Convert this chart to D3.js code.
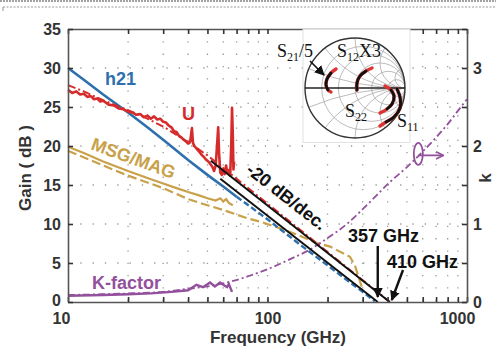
<!DOCTYPE html>
<html>
<head>
<meta charset="utf-8">
<script src="https://cdn.jsdelivr.net/npm/d3@7"></script>
<style>
body { margin: 0; background: #fff; }
svg text { font-family: "Liberation Sans", Arial, sans-serif; }
</style>
</head>
<body>
<div id="chart"></div>
<script>
// values: [frequency GHz, gain dB] or [frequency GHz, k]
const h21Meas = [[10,30.0],[12,28.5],[15,26.6],[20,24.3],[25,22.4],[30,20.8],[40,18.2],[50,16.3],[60,14.8],[70,13.5]];
const h21Model = [[70,13.5],[100,10.6],[150,7.1],[200,4.7],[250,2.8],[300,1.3],[345,0.1]];
const uMeas = [[10,27.2],[10.5,26.8],[11,27.0],[11.5,26.6],[12,26.7],[12.5,26.3],[13,26.4],[13.5,26.0],[14,26.1],[14.5,25.7],
  [15,25.8],[16,25.3],[17,25.2],[18,24.8],[19,24.7],[20,24.4],[21,24.3],[22,24.0],[23,24.1],[24,23.7],[25,23.9],[26,23.5],
  [27,23.8],[28,23.4],[29,23.5],[30,23.1],[31,23.0],[32,22.6],[33,22.4],[34,21.9],[35,21.8],[36,21.3],[37,21.1],[38,20.8],
  [39,20.6],[40,20.3],[41,20.6],[41.8,22.3],[42.3,20.4],[43,20.0],[44,19.7],[45,19.4],[46,19.1],[47,18.8],[48,18.6],[49,18.3],
  [50,18.1],[51,17.9],[52,17.6],[53,17.3],[54,16.8],[55,17.5],[56,20.5],[56.6,22.4],[57.2,19.0],[58,16.6],[59,16.3],[60,17.0],
  [61,16.4],[62,17.5],[63,16.5],[64,16.9],[65,16.2],[65.8,20.0],[66.4,24.9],[67,21.5],[67.5,17.0],[68,18.0]];
const uModel = [[10,27.8],[12,27.0],[14,26.2],[17,25.3],[20,24.6],[25,23.5],[30,22.5],[40,20.5],[50,18.8],[70,15.8],
  [100,12.6],[150,9.0],[200,6.4],[300,2.8],[380,0.7],[410,0]];
const msgMeas = [[10,19.9],[12,19.1],[15,18.0],[20,16.8],[25,15.9],[30,15.2],[35,14.6],[40,14.1],[45,13.7],[50,13.3],
  [55,13.0],[58,13.3],[60,12.9],[62,13.2],[64,12.7],[67,12.4]];
const msgModel = [[10,19.4],[15,17.5],[20,16.2],[30,14.6],[40,13.2],[50,12.4],[60,11.8],[70,11.2],[80,10.7],[92,10.3],
  [120,9.3],[145,8.5],[175,7.6],[206,7.1],[259,5.8],[275,4.6],[297,1.9]];
const kMeas = [[10,0.08],[15,0.09],[20,0.10],[26,0.11],[33,0.13],[40,0.15],[44,0.22],[47.5,0.19],[51.5,0.25],[54.5,0.20],
  [57.8,0.25],[60,0.22],[62.7,0.19],[64,0.23],[66.4,0.13]];
const kModel = [[10,0.09],[15,0.10],[20,0.11],[30,0.13],[40,0.17],[50,0.20],[65,0.26],[80,0.33],[100,0.42],[130,0.55],
  [160,0.66],[200,0.82],[250,1.00],[300,1.19],[350,1.36],[400,1.51],[500,1.73],[600,1.93],[700,2.11],[800,2.28],[900,2.45],[1000,2.60]];
// -20 dB/dec. fits ending at fT = 357 GHz and fmax = 410 GHz
const fitFt = [[58,15.8],[357,0]];
const fitFmax = [[52,18.1],[410,0]];

// smith chart inset, reflection coefficient [re, im]
const s21 = [[-0.38,0.38],[-0.48,0.30],[-0.56,0.18],[-0.58,0.06],[-0.54,-0.04],[-0.48,-0.08]];
const s12 = [[0.34,0.40],[0.22,0.34],[0.10,0.24],[0.04,0.10],[0.04,-0.04]];
const s22 = [[0.60,0.04],[0.72,-0.04],[0.78,-0.16],[0.74,-0.32],[0.64,-0.42],[0.50,-0.50]];
const s11 = [[0.84,-0.02],[0.90,-0.18],[0.90,-0.40],[0.78,-0.58],[0.62,-0.68],[0.50,-0.76]];

const freqTicks = [10,20,30,40,50,60,70,80,90,100,200,300,400,500,600,700,800,900,1000];
const freqLabels = [10,100,1000];
const gainTicks = [0,5,10,15,20,25,30,35];
const kTicks = [0,0.5,1,1.5,2,2.5,3,3.5];
const kLabels = [0,1,2,3];

const margin = {top: 29, right: 29, bottom: 45, left: 68},
    width = 496 - margin.left - margin.right,
    height = 347 - margin.top - margin.bottom;

const svg = d3.select("#chart").append("svg")
    .attr("width", 496)
    .attr("height", 347);

// dotted rules at the very top of the scan
svg.append("line").attr("x1", 0).attr("x2", 496).attr("y1", 1).attr("y2", 1)
    .attr("stroke", "#444").attr("stroke-dasharray", "2,1");
svg.append("line").attr("x1", 3).attr("x2", 496).attr("y1", 7).attr("y2", 7)
    .attr("stroke", "#999").attr("stroke-dasharray", "2,1.5");
svg.append("line").attr("x1", 3).attr("x2", 3).attr("y1", 7).attr("y2", 11).attr("stroke", "#999");

const g = svg.append("g")
    .attr("transform", `translate(${margin.left},${margin.top})`);

const x = d3.scaleLog().domain([10, 1000]).range([0, width]);
const y = d3.scaleLinear().domain([0, 35]).range([height, 0]);
const yk = d3.scaleLinear().domain([0, 3.5]).range([height, 0]);

// grid
g.append("g").selectAll("line")
    .data(freqTicks.slice(1, -1))
    .join("line")
    .attr("x1", d => x(d)).attr("x2", d => x(d))
    .attr("y1", 0).attr("y2", height)
    .attr("stroke", "#999").attr("stroke-width", 1.3).attr("stroke-dasharray", "1.3,11");
g.append("g").selectAll("line")
    .data(gainTicks.slice(1, -1))
    .join("line")
    .attr("x1", 0).attr("x2", width)
    .attr("y1", d => y(d)).attr("y2", d => y(d))
    .attr("stroke", "#999").attr("stroke-width", 1.3).attr("stroke-dasharray", "1.3,11");

const gainLine = d3.line().x(d => x(d[0])).y(d => y(d[1]));
const kLine = d3.line().x(d => x(d[0])).y(d => yk(d[1]));

const blue = "#2d70ad", red = "#d62b2b", gold = "#c9a14a", purple = "#93509c";

g.append("path").datum(msgModel).attr("d", gainLine)
    .attr("fill", "none").attr("stroke", gold).attr("stroke-width", 2.2).attr("stroke-dasharray", "9,4");
g.append("path").datum(msgMeas).attr("d", gainLine)
    .attr("fill", "none").attr("stroke", gold).attr("stroke-width", 2.2);

g.append("path").datum(kModel).attr("d", kLine.curve(d3.curveMonotoneX))
    .attr("fill", "none").attr("stroke", purple).attr("stroke-width", 1.8).attr("stroke-dasharray", "7,3,2,3");
g.append("path").datum(kMeas).attr("d", d3.line().x(d => x(d[0])).y(d => yk(d[1])))
    .attr("fill", "none").attr("stroke", purple).attr("stroke-width", 2.4);

g.append("path").datum(h21Model).attr("d", gainLine)
    .attr("fill", "none").attr("stroke", blue).attr("stroke-width", 2.4).attr("stroke-dasharray", "6,3");
g.append("path").datum(h21Meas).attr("d", gainLine)
    .attr("fill", "none").attr("stroke", blue).attr("stroke-width", 2.6);

g.append("path").datum(uModel).attr("d", gainLine)
    .attr("fill", "none").attr("stroke", red).attr("stroke-width", 2).attr("stroke-dasharray", "8,3,2,3");
g.append("path").datum(uMeas).attr("d", gainLine)
    .attr("fill", "none").attr("stroke", red).attr("stroke-width", 2.6).attr("stroke-linejoin", "round");

g.append("path").datum(fitFt).attr("d", gainLine)
    .attr("fill", "none").attr("stroke", "#111").attr("stroke-width", 2);
g.append("path").datum(fitFmax).attr("d", gainLine)
    .attr("fill", "none").attr("stroke", "#111").attr("stroke-width", 2);

// arrowheads
const defs = svg.append("defs");
defs.append("marker").attr("id", "head")
    .attr("viewBox", "0 0 10 10").attr("refX", 9).attr("refY", 5)
    .attr("markerWidth", 10).attr("markerHeight", 10).attr("markerUnits", "userSpaceOnUse")
    .attr("orient", "auto")
    .append("path").attr("d", "M0,0L10,5L0,10Z").attr("fill", "#111");
defs.append("marker").attr("id", "chev")
    .attr("viewBox", "0 0 10 10").attr("refX", 9).attr("refY", 5)
    .attr("markerWidth", 9).attr("markerHeight", 9).attr("markerUnits", "userSpaceOnUse")
    .attr("orient", "auto")
    .append("path").attr("d", "M1,1L9,5L1,9").attr("fill", "none").attr("stroke", purple).attr("stroke-width", 1.8);

// labels in the plot
const lab = (txt, px, py, color, rot) => g.append("text")
    .attr("transform", `translate(${px - margin.left},${py - margin.top})` + (rot ? ` rotate(${rot})` : ""))
    .attr("font-size", 18).attr("font-weight", "bold").attr("fill", color).text(txt);
lab("h21", 105, 85, blue);
lab("U", 182, 120, red);
lab("MSG/MAG", 90, 149, gold, 20);
lab("K-factor", 92, 289, purple);
lab("-20 dB/dec.", 245, 172, "#111", 38);
lab("357 GHz", 348, 242, "#111");
lab("410 GHz", 387, 268, "#111");

g.append("line")
    .attr("x1", x(357)).attr("x2", x(357))
    .attr("y1", 246 - margin.top).attr("y2", y(0) - 5)
    .attr("stroke", "#111").attr("stroke-width", 2.4).attr("marker-end", "url(#head)");
g.append("line")
    .attr("x1", 403 - margin.left).attr("x2", x(410) + 2)
    .attr("y1", 270 - margin.top).attr("y2", y(0) - 2)
    .attr("stroke", "#111").attr("stroke-width", 2.4).attr("marker-end", "url(#head)");

// loop + arrow pointing to the k axis
g.append("ellipse")
    .attr("cx", x(570)).attr("cy", yk(1.9)).attr("rx", 4.5).attr("ry", 11)
    .attr("fill", "none").attr("stroke", purple).attr("stroke-width", 1.8);
g.append("line")
    .attr("x1", x(570)).attr("x2", x(760))
    .attr("y1", yk(1.88)).attr("y2", yk(1.88))
    .attr("stroke", purple).attr("stroke-width", 1.8).attr("marker-end", "url(#chev)");

// smith chart inset
const cx = 355, cy = 88, R = 50;
const sx = d3.scaleLinear().domain([-1, 1]).range([cx - R, cx + R]);
const sy = d3.scaleLinear().domain([-1, 1]).range([cy + R, cy - R]);

const inset = svg.append("g");
inset.append("rect").attr("x", 303).attr("y", 29.5).attr("width", 107).attr("height", 113)
    .attr("fill", "#fff").attr("stroke", "#e2e2e2");
defs.append("clipPath").attr("id", "smithClip")
    .append("circle").attr("cx", cx).attr("cy", cy).attr("r", R);
const sg = inset.append("g").attr("clip-path", "url(#smithClip)");
[0.2, 0.5, 1, 2, 5].forEach(r => {
    sg.append("circle")
        .attr("cx", sx(r / (1 + r))).attr("cy", cy).attr("r", R / (1 + r))
        .attr("fill", "none").attr("stroke", "#aaa").attr("stroke-width", 0.8);
    [1, -1].forEach(s => {
        sg.append("circle")
            .attr("cx", sx(1)).attr("cy", sy(s / r)).attr("r", R / r)
            .attr("fill", "none").attr("stroke", "#aaa").attr("stroke-width", 0.8);
    });
});
inset.append("circle").attr("cx", cx).attr("cy", cy).attr("r", R)
    .attr("fill", "none").attr("stroke", "#333").attr("stroke-width", 1.4);
inset.append("line").attr("x1", sx(-1)).attr("x2", sx(1)).attr("y1", cy).attr("y2", cy)
    .attr("stroke", "#222").attr("stroke-width", 1.4);

const smithLine = d3.line().x(d => sx(d[0])).y(d => sy(d[1])).curve(d3.curveCatmullRom);
[[s21, 1, 1], [s12, 1, 0], [s22, 1, 1], [s11, 0, 1]].forEach(([pts, a, b]) => {
    inset.append("path").datum(pts).attr("d", smithLine)
        .attr("fill", "none").attr("stroke", "#d33").attr("stroke-width", 3.4).attr("stroke-linecap", "round");
    inset.append("path").datum(pts.slice(a, pts.length - b)).attr("d", smithLine)
        .attr("fill", "none").attr("stroke", "#111").attr("stroke-width", 2.8).attr("stroke-linecap", "round");
});

const sLab = (px, py, sub, tail) => {
    const t = inset.append("text").attr("x", px).attr("y", py)
        .style("font-family", "'Liberation Serif', 'DejaVu Serif', serif").attr("font-size", 18).attr("fill", "#111");
    t.append("tspan").text("S");
    t.append("tspan").attr("font-size", 12).attr("dy", 4).text(sub);
    if (tail) t.append("tspan").attr("dy", -4).text(tail);
};
sLab(277, 57, "21", "/5");
sLab(337, 57, "12", "X3");
sLab(345, 117, "22");
sLab(397, 127, "11");
inset.append("line").attr("x1", 310).attr("y1", 61).attr("x2", 324).attr("y2", 75)
    .attr("stroke", "#111").attr("stroke-width", 1.6).attr("marker-end", "url(#head)");

// axes
const styleAxis = sel => {
    sel.select(".domain").attr("stroke", "#555").attr("stroke-width", 1.6);
    sel.selectAll(".tick line").attr("stroke", "#333").attr("stroke-width", 1.6);
    sel.attr("font-size", 16).attr("font-weight", "bold")
        .attr("font-family", "'Liberation Sans', Arial, sans-serif");
    sel.selectAll("text").attr("fill", "#333");
};

g.append("g")
    .attr("transform", `translate(0,${height})`)
    .call(d3.axisBottom(x).tickValues(freqTicks).tickSize(-5).tickSizeOuter(0).tickPadding(11)
        .tickFormat(d => freqLabels.includes(d) ? d : ""))
    .call(styleAxis)
    .call(a => a.selectAll("text").attr("dx", d => d === 10 ? -7 : d === 1000 ? -10 : 0));

g.append("g")
    .call(d3.axisTop(x).tickValues(freqTicks).tickSize(-5).tickSizeOuter(0).tickFormat(""))
    .call(styleAxis);

g.append("g")
    .call(d3.axisLeft(y).tickValues(gainTicks).tickSize(-5).tickSizeOuter(0).tickPadding(7))
    .call(styleAxis)
    .call(a => a.selectAll("text").attr("dy", d => d === 0 ? "0.2em" : "0.32em"));

g.append("g")
    .attr("transform", `translate(${width},0)`)
    .call(d3.axisRight(yk).tickValues(kTicks).tickSize(-5).tickSizeOuter(0).tickPadding(6)
        .tickFormat(d => kLabels.includes(d) ? d : ""))
    .call(styleAxis);

svg.append("text")
    .attr("x", 278).attr("y", 343)
    .attr("text-anchor", "middle").attr("font-size", 17).attr("font-weight", "bold").attr("fill", "#333")
    .text("Frequency (GHz)");
svg.append("text")
    .attr("transform", "translate(31,168) rotate(-90)")
    .attr("text-anchor", "middle").attr("font-size", 17).attr("font-weight", "bold").attr("fill", "#333")
    .text("Gain ( dB )");
svg.append("text")
    .attr("transform", "translate(491,178) rotate(-90)")
    .attr("text-anchor", "middle").attr("font-size", 17).attr("font-weight", "bold").attr("fill", "#333")
    .text("k");
</script>
</body>
</html>
